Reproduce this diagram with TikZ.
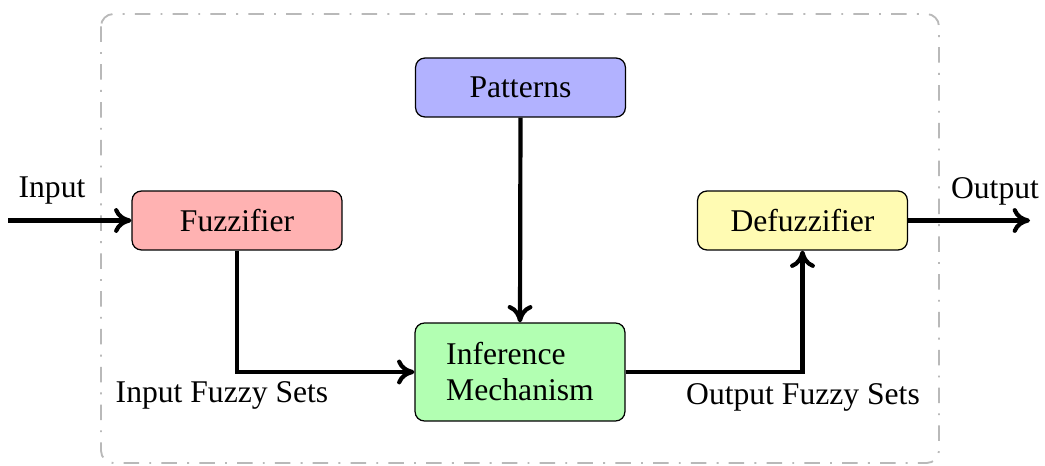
\documentclass[tikz,border=0pt]{standalone}
\usepackage{fontspec}
\setmainfont{Liberation Serif}
\usetikzlibrary{arrows.meta}
\begin{document}
\begin{tikzpicture}[x=0.3226pt, y=-0.3226pt,
  block/.style={draw=black, line width=0.4pt, rounded corners=3pt, inner sep=0pt,
    minimum width=67.7pt, minimum height=19pt, font=\fontsize{10.2}{11.6}\selectfont},
  flow/.style={line width=1.35pt, -{To[length=5.6pt, width=8pt]}},
  lbl/.style={font=\fontsize{10.2}{12}\selectfont, inner sep=0pt},
  frame/.style={draw=gray!55, line width=0.6pt, rounded corners=4pt,
    dash pattern=on 5pt off 3.3pt on 0.6pt off 3.3pt}]
  \useasboundingbox (0,0) rectangle (1045,466);
  % dashed system boundary
  \draw[frame] (101,14) rectangle (939,463);
  % blocks
  \node[block, fill=blue!30] (pat) at (520.5,87.5) {Patterns};
  \node[block, fill=red!30] (fuz) at (237,220.5) {Fuzzifier};
  \node[block, fill=yellow!30] (def) at (802.5,220.5) {Defuzzifier};
  \node[block, fill=green!30, minimum height=31.6pt, align=left]
    (inf) at (520,372) {Inference\\Mechanism};
  % free ends of the external connectors
  \coordinate (in) at (8,220.5);
  \coordinate (out) at (1030,220.5);
  % connectors
  \draw[flow] (in) -- (fuz.west);
  \draw[flow] (def.east) -- (out);
  \draw[flow] (fuz.south) |- (inf.west);
  \draw[flow] (pat.south) -- (inf.north);
  \draw[flow] (inf.east) -| (def.south);
  % labels
  \node[lbl] (lin) at (52,191) {Input};
  \node[lbl] (lout) at (995,191) {Output};
  \node[lbl] (lifs) at (222,395) {Input Fuzzy Sets};
  \node[lbl] (lofs) at (803,397) {Output Fuzzy Sets};
\end{tikzpicture}
\end{document}
